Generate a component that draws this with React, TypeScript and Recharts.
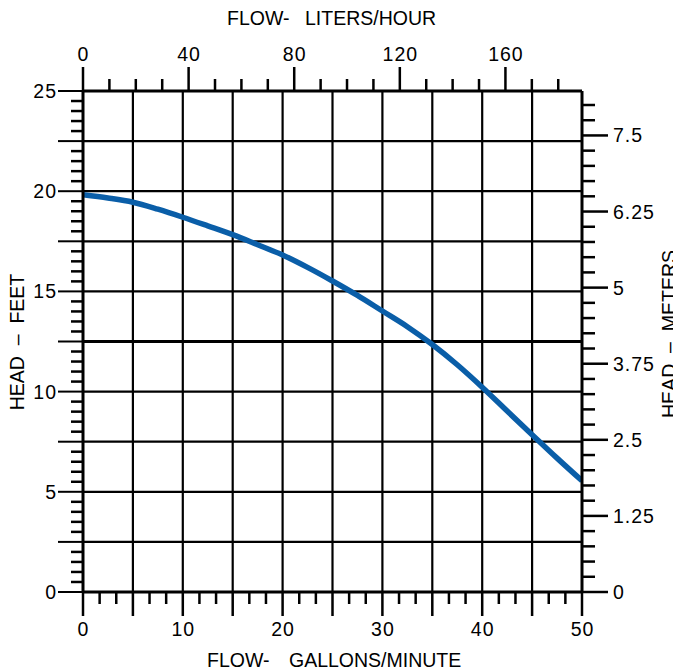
import React from 'react';
import { ComposedChart, Line, XAxis, YAxis, CartesianGrid } from 'recharts';

// ---- data ----
const FLOW_GPM = [0, 2.5, 5, 7.5, 10, 12.5, 15, 17.5, 20, 22.5, 25, 27.5, 30, 32.5, 35, 37.5, 40, 42.5, 45, 47.5, 50];
const HEAD_FT = [19.82, 19.66, 19.45, 19.1, 18.7, 18.27, 17.83, 17.33, 16.82, 16.2, 15.52, 14.8, 14.02, 13.24, 12.35, 11.34, 10.22, 9.03, 7.85, 6.68, 5.55];

// ---- axes ----
const GPM_DOMAIN = [0, 50];
const FT_DOMAIN = [0, 25];
const LPH_DOMAIN = [0, 189];
const M_DOMAIN = [0, 8.23];

const GPM_LABELS = [0, 10, 20, 30, 40, 50];
const LPH_LABELS = [0, 40, 80, 120, 160];
const FT_LABELS = [0, 5, 10, 15, 20, 25];
const M_LABELS = [0, 1.25, 2.5, 3.75, 5, 6.25, 7.5];

const GPM_TICKS = Array.from({ length: 31 }, (_, i) => (i * 5) / 3);
const LPH_TICKS = Array.from({ length: 19 }, (_, i) => i * 10);
const FT_TICKS = Array.from({ length: 51 }, (_, i) => i * 0.5);
const M_TICKS = Array.from({ length: 33 }, (_, i) => i * 0.25);

const GRID_X = [5, 10, 15, 20, 25, 30, 35, 40, 45];
const GRID_Y = [2.5, 5, 7.5, 10, 15, 17.5, 20, 22.5];
const GRID_Y_BOLD = [12.5];

const TABLE = FLOW_GPM.map((g, i) => ({ gpm: g, ft: HEAD_FT[i] }));

const FONT = "'Liberation Sans', Arial, Helvetica, sans-serif";
const FS = 19.5;
const LS = 1;
const INK = '#000';
const CURVE = '#0a5ea8';

const isMult = (v: number, s: number) => Math.abs(v / s - Math.round(v / s)) < 1e-6;
const has = (arr: number[], v: number) => arr.some((a) => Math.abs(a - v) < 1e-6);
const fmt = (v: number) => String(Math.round(v * 100) / 100);

const BottomTick = (p: any) => {
  const { x, y, payload } = p;
  const v = payload.value as number;
  const major = isMult(v, 5);
  return (
    <g>
      <line x1={x} x2={x} y1={y} y2={y + (major ? 24 : 12)} stroke={INK} strokeWidth={2.5} />
      {has(GPM_LABELS, v) && (
        <text x={x + LS / 2} y={y + 44} textAnchor="middle" fontFamily={FONT} fontSize={FS} letterSpacing={LS} fill={INK}>
          {fmt(v)}
        </text>
      )}
    </g>
  );
};

const TopTick = (p: any) => {
  const { x, y, payload } = p;
  const v = payload.value as number;
  const major = isMult(v, 40);
  return (
    <g>
      <line x1={x} x2={x} y1={y} y2={y - (major ? 24 : 12)} stroke={INK} strokeWidth={2.5} />
      {has(LPH_LABELS, v) && (
        <text x={x + LS / 2} y={y - 30} textAnchor="middle" fontFamily={FONT} fontSize={FS} letterSpacing={LS} fill={INK}>
          {fmt(v)}
        </text>
      )}
    </g>
  );
};

const LeftTick = (p: any) => {
  const { x, y, payload } = p;
  const v = payload.value as number;
  const major = isMult(v, 2.5);
  return (
    <g>
      <line x1={x} x2={x - (major ? 25 : 12)} y1={y} y2={y} stroke={INK} strokeWidth={major ? 2 : 2.5} />
      {has(FT_LABELS, v) && (
        <text x={x - 26} y={y} dy="0.36em" textAnchor="end" fontFamily={FONT} fontSize={FS} letterSpacing={LS} fill={INK}>
          {fmt(v)}
        </text>
      )}
    </g>
  );
};

const RightTick = (p: any) => {
  const { x, y, payload } = p;
  const v = payload.value as number;
  const major = has(M_LABELS, v);
  return (
    <g>
      <line x1={x} x2={x + (major ? 26 : 13)} y1={y} y2={y} stroke={INK} strokeWidth={2.5} />
      {major && (
        <text x={x + 31} y={y} dy="0.36em" textAnchor="start" fontFamily={FONT} fontSize={FS} letterSpacing={LS} fill={INK}>
          {fmt(v)}
        </text>
      )}
    </g>
  );
};

const W = 673;
const H = 663;

export default function App() {
  return (
    <div style={{ position: 'relative', width: W, height: H }}>
      <style>{'html, body { overflow: hidden; }'}</style>
      <ComposedChart width={W} height={H} data={TABLE} margin={{ top: 0, right: 0, bottom: 0, left: 0 }}>
        <CartesianGrid
          xAxisId="gpm"
          yAxisId="ft"
          stroke={INK}
          strokeWidth={2.2}
          verticalValues={GRID_X}
          horizontalValues={GRID_Y}
        />
        <CartesianGrid
          xAxisId="gpm"
          yAxisId="ft"
          stroke={INK}
          strokeWidth={3}
          vertical={false}
          horizontalValues={GRID_Y_BOLD}
        />
        <XAxis
          xAxisId="gpm"
          dataKey="gpm"
          type="number"
          orientation="bottom"
          domain={GPM_DOMAIN}
          allowDataOverflow
          ticks={GPM_TICKS}
          interval={0}
          tickSize={0}
          tickMargin={0}
          tickLine={false}
          tick={BottomTick}
          height={79}
          axisLine={{ stroke: INK, strokeWidth: 3 }}
        />
        <XAxis
          xAxisId="lph"
          dataKey="lph"
          type="number"
          orientation="top"
          domain={LPH_DOMAIN}
          allowDataOverflow
          ticks={LPH_TICKS}
          interval={0}
          tickSize={0}
          tickMargin={0}
          tickLine={false}
          tick={TopTick}
          height={83}
          axisLine={{ stroke: INK, strokeWidth: 3 }}
        />
        <YAxis
          yAxisId="ft"
          type="number"
          orientation="left"
          domain={FT_DOMAIN}
          allowDataOverflow
          ticks={FT_TICKS}
          interval={0}
          tickSize={0}
          tickMargin={0}
          tickLine={false}
          tick={LeftTick}
          width={75}
          axisLine={{ stroke: INK, strokeWidth: 3 }}
        />
        <YAxis
          yAxisId="m"
          dataKey="m"
          type="number"
          orientation="right"
          domain={M_DOMAIN}
          allowDataOverflow
          ticks={M_TICKS}
          interval={0}
          tickSize={0}
          tickMargin={0}
          tickLine={false}
          tick={RightTick}
          width={99}
          axisLine={{ stroke: INK, strokeWidth: 3 }}
        />
        <Line
          xAxisId="gpm"
          yAxisId="ft"
          dataKey="ft"
          type="monotone"
          stroke={CURVE}
          strokeWidth={5.5}
          dot={false}
          activeDot={false}
          isAnimationActive={false}
        />
      </ComposedChart>
      <svg
        width={W}
        height={H}
        style={{ position: 'absolute', left: 0, top: 0, pointerEvents: 'none', overflow: 'visible' }}
      >
        <text y={17} fontFamily={FONT} fontSize={FS} fill={INK}>
          <tspan x={219}>FLOW-</tspan>
          <tspan x={297}>LITERS/HOUR</tspan>
        </text>
        <text y={659} fontFamily={FONT} fontSize={FS} fill={INK}>
          <tspan x={199}>FLOW-</tspan>
          <tspan x={281}>GALLONS/MINUTE</tspan>
        </text>
        <text
          transform="translate(16,334) rotate(-90)"
          textAnchor="middle"
          fontFamily={FONT}
          fontSize={FS}
          fill={INK}
          style={{ whiteSpace: 'pre' }}
        >
          {'HEAD  –  FEET'}
        </text>
        <text
          transform="translate(668,326) rotate(-90)"
          textAnchor="middle"
          fontFamily={FONT}
          fontSize={FS}
          fill={INK}
          style={{ whiteSpace: 'pre' }}
        >
          {'HEAD  –  METERS'}
        </text>
      </svg>
    </div>
  );
}
